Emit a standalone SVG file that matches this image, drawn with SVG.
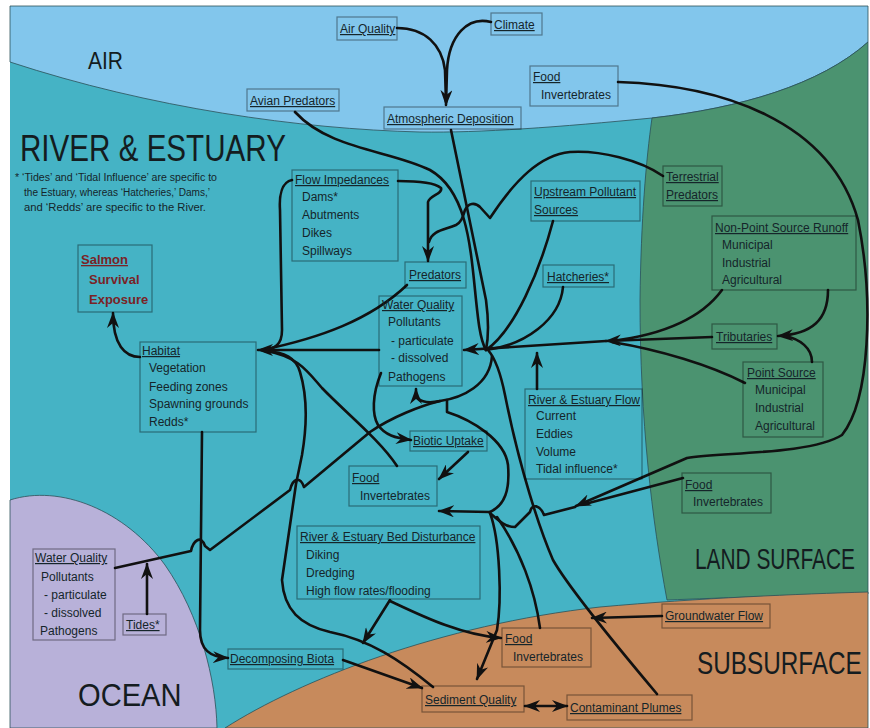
<svg xmlns="http://www.w3.org/2000/svg" width="870" height="728" viewBox="0 0 870 728">
<defs>
<marker id="ah" viewBox="0 0 16 12" refX="15" refY="6" markerWidth="16" markerHeight="12" markerUnits="userSpaceOnUse" orient="auto-start-reverse">
<path d="M0,0 L16,6 L0,12 L5,6 Z" fill="#111"/>
</marker>
<style>
.b{fill:none;stroke:rgba(0,0,0,0.4);stroke-width:1.2}
.t{font-family:"Liberation Sans",Arial,sans-serif;font-size:12px;fill:#15252a}
.h{text-decoration:underline}
.rg{font-family:"Liberation Sans",Arial,sans-serif;fill:#141c20}
.c{fill:none;stroke:#111;stroke-width:2.6;stroke-linecap:round;stroke-linejoin:round}
.a{marker-end:url(#ah)}
.s{font-family:"Liberation Sans",Arial,sans-serif;font-size:13px;font-weight:bold;fill:#7a2326}
.reg{stroke:#2b5058;stroke-width:0.8}
</style>
</defs>
<rect x="0" y="0" width="870" height="728" fill="#fff"/>
<g id="regions">
<rect x="10" y="6" width="858" height="722" fill="#45b3c5"/>
<path class="reg" d="M10,6 L868,6 L868,42 C820,85 740,108 652,118 C560,127 480,133 420,132 C300,129 150,108 10,62 Z" fill="#82c6ec"/>
<path class="reg" d="M652,118 C740,108 820,85 868,42 L868,594 C800,595 720,598 667,600 C652,520 640,420 640,300 C641,220 646,160 652,118 Z" fill="#4b9370"/>
<path class="reg" d="M10,500 C60,484 125,510 165,565 C200,615 216,680 217,728 L10,728 Z" fill="#b8b1d9"/>
<path class="reg" d="M225,728 C300,680 440,625 600,607 C700,598 800,594 868,592 L868,728 Z" fill="#c78a5c"/>
</g>
<g id="labels">
<text class="rg" font-size="24" transform="translate(88,69) scale(0.875,1)">AIR</text>
<text class="rg" font-size="37" transform="translate(20,161) scale(0.8,1)">RIVER &amp; ESTUARY</text>
<text class="t" x="15" y="181" style="font-size:10px" textLength="202" lengthAdjust="spacingAndGlyphs">* ‘Tides’ and ‘Tidal Influence’ are specific to</text>
<text class="t" x="24" y="196" style="font-size:10px" textLength="186" lengthAdjust="spacingAndGlyphs">the Estuary, whereas ‘Hatcheries,’ Dams,’</text>
<text class="t" x="24" y="211" style="font-size:10px" textLength="182" lengthAdjust="spacingAndGlyphs">and ‘Redds’ are specific to the River.</text>
<text class="rg" font-size="29" transform="translate(695,569) scale(0.72,1)">LAND SURFACE</text>
<text class="rg" font-size="32" transform="translate(697,674) scale(0.76,1)">SUBSURFACE</text>
<text class="rg" font-size="32" transform="translate(78,706) scale(0.91,1)">OCEAN</text>
</g>
<g id="connectors">
<path class="c" d="M397,28 C425,28 442,45 445,70 L446,102"/>
<path class="c a" d="M491,22 C468,16 449,35 447,70 L446,105"/>
<path class="c" d="M451,130 L486,300 Q490,330 486,350"/>
<path class="c" d="M295,112 C330,150 390,150 430,170 C465,190 470,240 475,290 C478,320 480,340 486,350"/>
<path class="c a" d="M398,181 C420,181 435,183 441,188 C443,194 430,195 428,202 L428,261"/>
<path class="c" d="M663,176 C640,160 600,150 570,152 C540,155 515,180 490,218 L480,207 C475,202 468,203 465,210 C463,216 462,222 456,225 C445,230 432,230 429,242"/>
<path class="c" d="M553,221 C540,270 515,330 486,350"/>
<path class="c" d="M563,287 C560,320 525,345 486,350"/>
<path class="c a" d="M712,337 L606,341"/>
<path class="c a" d="M606,341 L464,350"/>
<path class="c" d="M722,290 C700,320 660,335 612,341"/>
<path class="c" d="M745,383 C710,365 660,350 612,342"/>
<path class="c a" d="M828,290 C828,320 812,334 778,336"/>
<path class="c" d="M812,362 C812,348 800,339 785,336"/>
<path class="c a" d="M537,389 L537,353"/>
<path class="c" d="M407,285 C370,320 320,338 262,350"/>
<path class="c a" d="M379,350 L258,350"/>
<path class="c" d="M292,180 C282,182 279,195 280,210 L282,330 C282,345 275,349 262,350"/>
<path class="c" d="M397,466 C380,440 345,412 322,388 C308,372 298,356 265,351"/>
<path class="c" d="M433,687 C400,660 370,640 330,632 C300,625 284,610 282,580 L296,484 L302,455 C308,420 307,395 300,372 C296,358 285,352 265,351"/>
<path class="c" d="M115,568 L191,551 C193,541 201,534 205,546 L210,550 L290,490 C293,478 300,476 304,487 L370,432 C392,417 420,406 440,401"/>
<path class="c a" d="M492,356 C490,385 462,398 440,401 C426,404 417,401 416,394 L416,389"/>
<path class="c" d="M447,400 L447,412 C472,420 505,440 508,465 C510,490 505,505 490,512"/>
<path class="c a" d="M490,512 L439,511"/>
<path class="c a" d="M618,82 C720,85 830,120 858,220 C874,300 870,400 842,435 C810,455 720,452 687,458 L576,506"/>
<path class="c" d="M575,507 L544,515 C540,505 532,503 530,512 L515,527 C505,527 498,520 490,513"/>
<path class="c" d="M683,478 L585,504"/>
<path class="c a" d="M490,513 C500,540 502,600 497,630 L477,679"/>
<path class="c" d="M497,517 C520,550 535,590 540,628"/>
<path class="c" d="M657,694 C620,650 570,590 553,560 C540,530 520,470 505,395 C500,370 495,358 488,350"/>
<path class="c a" d="M140,357 C125,357 113,345 113,313"/>
<path class="c a" d="M202,432 L200,630 C200,650 210,657 228,658"/>
<path class="c a" d="M381,373 C372,395 372,415 378,425 C385,435 395,438 411,440"/>
<path class="c a" d="M468,452 L439,479"/>
<path class="c a" d="M390,600 L363,643"/>
<path class="c a" d="M390,601 C420,615 460,635 501,638"/>
<path class="c a" d="M343,660 L422,688"/>
<path class="c a" style="marker-start:url(#ah)" d="M525,706 L567,706"/>
<path class="c a" d="M662,616 L592,618"/>
<path class="c a" d="M147,614 L147,564"/>
</g>
<g id="air-quality"><rect class="b" x="337" y="17" width="60" height="23"/><text class="t h" x="340" y="33">Air Quality</text></g>
<g id="climate"><rect class="b" x="491" y="13" width="51" height="22"/><text class="t h" x="494" y="29">Climate</text></g>
<g id="atmospheric-deposition"><rect class="b" x="384" y="107" width="137" height="22"/><text class="t h" x="387" y="123">Atmospheric Deposition</text></g>
<g id="avian-predators"><rect class="b" x="247" y="89" width="92" height="22"/><text class="t h" x="250" y="105">Avian Predators</text></g>
<g id="food-air"><rect class="b" x="530" y="66" width="88" height="40"/><text class="t h" x="533" y="81">Food</text><text class="t" x="541" y="99">Invertebrates</text></g>
<g id="terrestrial-predators"><rect class="b" x="663" y="166" width="59" height="40"/><text class="t h" x="666" y="181">Terrestrial</text><text class="t h" x="666" y="199">Predators</text></g>
<g id="upstream-pollutant-sources"><rect class="b" x="531" y="181" width="109" height="40"/><text class="t h" x="534" y="196">Upstream Pollutant</text><text class="t h" x="534" y="214">Sources</text></g>
<g id="non-point-source-runoff"><rect class="b" x="712" y="216" width="144" height="74"/><text class="t h" x="715" y="232">Non-Point Source Runoff</text><text class="t" x="722" y="249">Municipal</text><text class="t" x="722" y="267">Industrial</text><text class="t" x="722" y="284">Agricultural</text></g>
<g id="flow-impedances"><rect class="b" x="292" y="170" width="106" height="91"/><text class="t h" x="295" y="184">Flow Impedances</text><text class="t" x="302" y="201">Dams*</text><text class="t" x="302" y="219">Abutments</text><text class="t" x="302" y="237">Dikes</text><text class="t" x="302" y="255">Spillways</text></g>
<g id="predators"><rect class="b" x="405" y="262" width="61" height="26"/><text class="t h" x="409" y="279">Predators</text></g>
<g id="hatcheries"><rect class="b" x="543" y="265" width="71" height="22"/><text class="t h" x="547" y="281">Hatcheries*</text></g>
<g id="water-quality-river"><rect class="b" x="379" y="296" width="83" height="90"/><text class="t h" x="382" y="309">Water Quality</text><text class="t" x="388" y="326">Pollutants</text><text class="t" x="391" y="345">- particulate</text><text class="t" x="391" y="362">- dissolved</text><text class="t" x="388" y="381">Pathogens</text></g>
<g id="salmon"><rect class="b" x="78" y="245" width="74" height="67"/><text class="s h" x="81" y="264">Salmon</text><text class="s" x="89" y="284">Survival</text><text class="s" x="89" y="304">Exposure</text></g>
<g id="habitat"><rect class="b" x="140" y="342" width="116" height="90"/><text class="t h" x="142" y="355">Habitat</text><text class="t" x="149" y="372">Vegetation</text><text class="t" x="149" y="391">Feeding zones</text><text class="t" x="149" y="408">Spawning grounds</text><text class="t" x="149" y="426">Redds*</text></g>
<g id="tributaries"><rect class="b" x="712" y="324" width="65" height="25"/><text class="t h" x="716" y="341">Tributaries</text></g>
<g id="point-source"><rect class="b" x="743" y="362" width="80" height="75"/><text class="t h" x="747" y="377">Point Source</text><text class="t" x="755" y="394">Municipal</text><text class="t" x="755" y="412">Industrial</text><text class="t" x="755" y="430">Agricultural</text></g>
<g id="river-estuary-flow"><rect class="b" x="525" y="389" width="117" height="90"/><text class="t h" x="528" y="404">River &amp; Estuary Flow</text><text class="t" x="536" y="420">Current</text><text class="t" x="536" y="438">Eddies</text><text class="t" x="536" y="456">Volume</text><text class="t" x="536" y="473">Tidal influence*</text></g>
<g id="biotic-uptake"><rect class="b" x="410" y="431" width="77" height="20"/><text class="t h" x="413" y="445">Biotic Uptake</text></g>
<g id="food-river"><rect class="b" x="349" y="466" width="88" height="40"/><text class="t h" x="352" y="482">Food</text><text class="t" x="360" y="500">Invertebrates</text></g>
<g id="food-land"><rect class="b" x="682" y="473" width="89" height="40"/><text class="t h" x="685" y="489">Food</text><text class="t" x="693" y="506">Invertebrates</text></g>
<g id="bed-disturbance"><rect class="b" x="297" y="526" width="183" height="73"/><text class="t h" x="300" y="541">River &amp; Estuary Bed Disturbance</text><text class="t" x="306" y="559">Diking</text><text class="t" x="306" y="577">Dredging</text><text class="t" x="306" y="595">High flow rates/flooding</text></g>
<g id="water-quality-ocean"><rect class="b" x="33" y="549" width="82" height="91"/><text class="t h" x="35" y="562">Water Quality</text><text class="t" x="41" y="581">Pollutants</text><text class="t" x="44" y="599">- particulate</text><text class="t" x="44" y="617">- dissolved</text><text class="t" x="40" y="635">Pathogens</text></g>
<g id="tides"><rect class="b" x="123" y="614" width="43" height="21"/><text class="t h" x="126" y="629">Tides*</text></g>
<g id="groundwater-flow"><rect class="b" x="662" y="604" width="108" height="24"/><text class="t h" x="665" y="620">Groundwater Flow</text></g>
<g id="food-subsurface"><rect class="b" x="502" y="628" width="89" height="39"/><text class="t h" x="505" y="643">Food</text><text class="t" x="513" y="661">Invertebrates</text></g>
<g id="decomposing-biota"><rect class="b" x="228" y="649" width="115" height="20"/><text class="t h" x="230" y="663">Decomposing Biota</text></g>
<g id="sediment-quality"><rect class="b" x="422" y="686" width="102" height="26"/><text class="t h" x="425" y="704">Sediment Quality</text></g>
<g id="contaminant-plumes"><rect class="b" x="567" y="695" width="125" height="25"/><text class="t h" x="570" y="712">Contaminant Plumes</text></g>
</svg>
